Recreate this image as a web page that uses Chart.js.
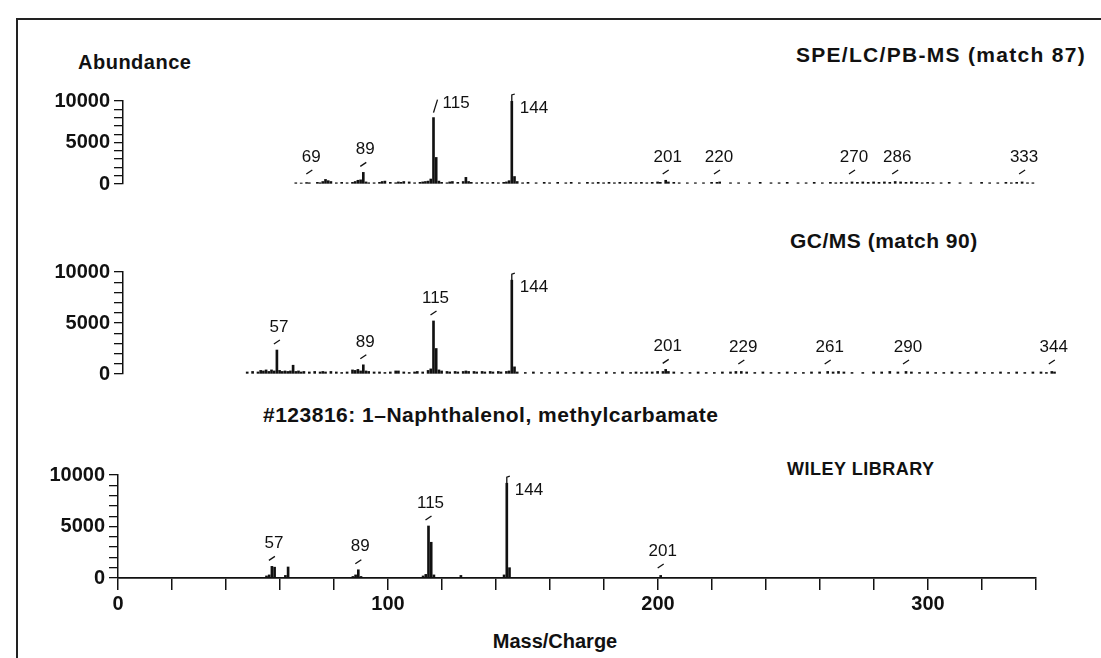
<!DOCTYPE html>
<html>
<head>
<meta charset="utf-8">
<script src="https://cdn.jsdelivr.net/npm/chart.js@4.4.0/dist/chart.umd.min.js"></script>
<style>
  body { margin: 0; background: #fff; width: 1101px; height: 658px; overflow: hidden; position: relative;
         font-family: "Liberation Sans", Arial, sans-serif; color: #111; }
  #frame { position: absolute; left: 16px; top: 18px; width: 1100px; height: 660px;
           border-top: 2px solid #222; border-left: 2px solid #222; }
  canvas { position: absolute; left: 0; }
  .t { position: absolute; font-weight: bold; white-space: nowrap; line-height: 1; }
</style>
</head>
<body>
<div id="frame"></div>
<div class="t" style="left:78px;top:52px;font-size:20px;letter-spacing:0.5px">Abundance</div>
<div class="t" style="right:15px;top:44px;font-size:21px;letter-spacing:1.3px">SPE/LC/PB-MS (match 87)</div>
<div class="t" style="left:790px;top:230px;font-size:21px;letter-spacing:0.5px">GC/MS (match 90)</div>
<div class="t" style="left:263px;top:404px;font-size:21px;letter-spacing:0.5px">#123816: 1–Naphthalenol, methylcarbamate</div>
<div class="t" style="left:787px;top:460px;font-size:18px;letter-spacing:0.5px">WILEY LIBRARY</div>
<div class="t" style="left:555px;top:631px;font-size:20px;transform:translateX(-50%)">Mass/Charge</div>

<canvas id="speChart" width="1101" height="130" style="top:70px"></canvas>
<canvas id="gcChart" width="1101" height="140" style="top:250px"></canvas>
<canvas id="wileyChart" width="1101" height="218" style="top:440px"></canvas>

<script>

// SPE/LC/PB-MS (match 87)
const speMz = [
  64, 66, 68, 69, 72, 73, 74, 75, 76, 77,
  79, 81, 83, 85, 86, 87, 88, 89, 90, 91,
  93, 95, 96, 97, 99, 101, 102, 103, 104, 106,
  108, 110, 111, 112, 113, 114, 115, 116, 117, 118,
  120, 121, 122, 124, 126, 127, 128, 129, 131, 133,
  135, 137, 139, 141, 142, 143, 144, 145, 146, 148,
  150, 153, 156, 158, 161, 164, 166, 169, 172, 174,
  176, 178, 180, 182, 184, 186, 188, 190, 192, 194,
  196, 198, 199, 201, 202, 204, 206, 209, 212, 215,
  218, 220, 221, 225, 228, 232, 236, 240, 243, 246,
  250, 253, 256, 259, 262, 264, 266, 268, 270, 272,
  274, 276, 278, 280, 282, 284, 286, 288, 290, 292,
  294, 296, 298, 300, 303, 306, 310, 314, 318, 321,
  324, 327, 329, 331, 333, 335, 337
];
const speAbund = [
  150, 120, 180, 150, 200, 150, 300, 550, 400, 300,
  150, 200, 150, 200, 300, 450, 500, 1400, 250, 150,
  150, 200, 300, 350, 200, 150, 250, 200, 300, 250,
  150, 200, 250, 300, 350, 600, 8000, 3200, 350, 200,
  150, 250, 300, 200, 300, 800, 300, 200, 150, 200,
  150, 200, 150, 200, 250, 400, 10000, 900, 300, 150,
  200, 150, 200, 150, 200, 150, 200, 150, 200, 150,
  200, 150, 200, 150, 200, 150, 200, 150, 200, 150,
  200, 250, 200, 450, 250, 200, 150, 150, 150, 150,
  200, 200, 250, 150, 150, 150, 200, 150, 150, 200,
  150, 150, 200, 150, 200, 150, 200, 150, 250, 200,
  250, 200, 250, 200, 250, 200, 300, 250, 200, 250,
  200, 150, 200, 150, 150, 200, 150, 150, 200, 150,
  150, 200, 150, 200, 250, 150, 150
];
const speLabels = [69, 89, 115, 144, 201, 220, 270, 286, 333];

// GC/MS (match 90)
const gcMz = [
  46, 48, 50, 51, 52, 53, 54, 55, 56, 57,
  58, 59, 60, 61, 62, 63, 64, 65, 66, 67,
  69, 71, 73, 74, 75, 77, 79, 81, 83, 85,
  86, 87, 88, 89, 90, 91, 93, 95, 97, 99,
  101, 102, 104, 106, 108, 109, 111, 113, 114, 115,
  116, 117, 118, 120, 121, 123, 124, 126, 127, 128,
  130, 131, 133, 134, 136, 137, 139, 140, 142, 143,
  144, 145, 146, 149, 152, 155, 158, 161, 164, 167,
  170, 173, 176, 179, 182, 185, 188, 190, 192, 194,
  196, 198, 200, 201, 202, 204, 207, 210, 213, 216,
  219, 222, 225, 227, 229, 231, 234, 237, 240, 243,
  246, 249, 252, 255, 258, 261, 263, 265, 267, 270,
  274, 278, 281, 284, 287, 290, 292, 295, 298, 301,
  304, 307, 310, 313, 316, 319, 322, 325, 328, 331,
  334, 337, 340, 342, 344, 345
];
const gcAbund = [
  200, 250, 200, 350, 300, 400, 250, 400, 300, 2350,
  350, 250, 300, 250, 300, 860, 250, 300, 200, 250,
  200, 250, 200, 250, 200, 250, 200, 150, 200, 400,
  350, 450, 300, 900, 300, 250, 200, 200, 150, 200,
  300, 300, 200, 150, 200, 250, 200, 350, 500, 5200,
  2500, 400, 300, 250, 200, 250, 200, 250, 300, 250,
  250, 200, 250, 200, 250, 200, 250, 200, 250, 300,
  9200, 700, 200, 150, 200, 150, 150, 200, 150, 150,
  200, 150, 150, 200, 150, 200, 150, 200, 150, 200,
  200, 250, 250, 450, 250, 200, 150, 150, 200, 150,
  150, 200, 200, 250, 250, 200, 150, 200, 150, 150,
  200, 150, 150, 200, 200, 250, 200, 250, 200, 150,
  150, 200, 200, 250, 200, 250, 200, 150, 200, 150,
  150, 200, 150, 150, 200, 150, 150, 200, 150, 200,
  150, 200, 200, 150, 250, 200
];
const gcLabels = [57, 89, 115, 144, 201, 229, 261, 290, 344];

// WILEY LIBRARY
const wileyMz = [55, 56, 57, 58, 62, 63, 87, 88, 89, 90, 113, 114, 115, 116, 117, 127, 143, 144, 145, 201];
const wileyAbund = [200, 300, 1130, 1050, 250, 1070, 150, 300, 800, 150, 200, 350, 5050, 3470, 300, 250, 300, 9200, 1000, 250];
const wileyLabels = [57, 89, 115, 144, 201];

// Ejes
const yTickLabels = [0, 5000, 10000];
const xTickLabels = [0, 100, 200, 300];

const ink = "#111";
const boldFont = { family: "'Liberation Sans', Arial, sans-serif", size: 20, weight: "bold" };

// Etiquetas de los picos con su pequeña línea guía
const peakLabelPlugin = {
  id: "peakLabels",
  afterDatasetsDraw(chart, args, opts) {
    const { ctx, scales } = chart;
    const x = scales.x;
    const y = scales.y;
    const points = chart.data.datasets[0].data;
    const base = y.getPixelForValue(0);

    ctx.save();
    ctx.strokeStyle = ink;
    ctx.fillStyle = ink;
    ctx.lineWidth = 1.3;
    ctx.font = '17px "Liberation Sans", sans-serif';
    ctx.textBaseline = "middle";

    opts.mz.forEach((m) => {
      const p = points.find((d) => d.x === m);
      const v = p ? p.y : 0;
      const px = x.getPixelForValue(m);
      const top = Math.min(y.getPixelForValue(v), base - 4);

      ctx.beginPath();
      if (v >= 9000) {
        // pico base: gancho arriba y número a la derecha
        ctx.moveTo(px, top);
        ctx.lineTo(px, top - 6);
        ctx.lineTo(px + 3, top - 7);
        ctx.stroke();
        ctx.textAlign = "left";
        ctx.fillText(String(m), px + 8, top + 7);
      } else if (v >= 7000) {
        ctx.moveTo(px, top - 5);
        ctx.lineTo(px + 4, top - 18);
        ctx.stroke();
        ctx.textAlign = "left";
        ctx.fillText(String(m), px + 9, top - 14);
      } else {
        ctx.moveTo(px - 3, top - 6);
        ctx.lineTo(px + 3, top - 10);
        ctx.stroke();
        ctx.textAlign = "center";
        ctx.fillText(String(m), px + 2, top - 23);
      }
    });
    ctx.restore();
  },
};

// Crear un panel del espectro
function makePanel(id, mz, abund, labels, cfg) {
  const pxPerUnit = 2.7;
  const right = 1101 - (cfg.axisLeft + cfg.xMax * pxPerUnit);
  const ctx = document.getElementById(id).getContext("2d");
  return new Chart(ctx, {
    type: "bar",
    data: {
      datasets: [
        {
          data: mz.map((m, i) => ({ x: m, y: abund[i] })),
          backgroundColor: ink,
          borderWidth: 0,
          barThickness: 2,
        },
      ],
    },
    plugins: [peakLabelPlugin],
    options: {
      responsive: false,
      animation: false,
      events: [],
      layout: { padding: { top: cfg.padTop, right: right, bottom: cfg.padBottom, left: 0 } },
      plugins: {
        legend: { display: false },
        tooltip: { enabled: false },
        peakLabels: { mz: labels },
      },
      scales: {
        x: {
          type: "linear",
          min: 0,
          max: cfg.xMax,
          offset: false,
          display: cfg.showX,
          grid: { drawOnChartArea: false, offset: false, color: ink, lineWidth: 1.5, tickLength: 12 },
          border: { color: ink, width: 1.8 },
          ticks: {
            stepSize: 20,
            autoSkip: false,
            maxRotation: 0,
            color: ink,
            padding: 2,
            font: boldFont,
            callback: (v) => (xTickLabels.includes(v) ? String(v) : ""),
          },
          afterFit: (s) => {
            s.height = cfg.showX ? 47 : 0;
          },
        },
        y: {
          min: 0,
          max: 10000,
          grid: { drawOnChartArea: false, color: ink, lineWidth: 1.3, tickLength: 9 },
          border: { color: ink, width: 1.5 },
          ticks: {
            stepSize: 1000,
            autoSkip: false,
            color: ink,
            padding: 4,
            font: boldFont,
            callback: (v) => (yTickLabels.includes(v) ? String(v) : ""),
          },
          afterFit: (s) => {
            s.width = cfg.axisLeft;
          },
        },
      },
    },
  });
}

makePanel("speChart", speMz, speAbund, speLabels, { axisLeft: 123, xMax: 350, padTop: 31, padBottom: 13, showX: false });
makePanel("gcChart", gcMz, gcAbund, gcLabels, { axisLeft: 123, xMax: 350, padTop: 22, padBottom: 13, showX: false });
makePanel("wileyChart", wileyMz, wileyAbund, wileyLabels, { axisLeft: 118, xMax: 340, padTop: 35, padBottom: 33, showX: true });
</script>
</body>
</html>
